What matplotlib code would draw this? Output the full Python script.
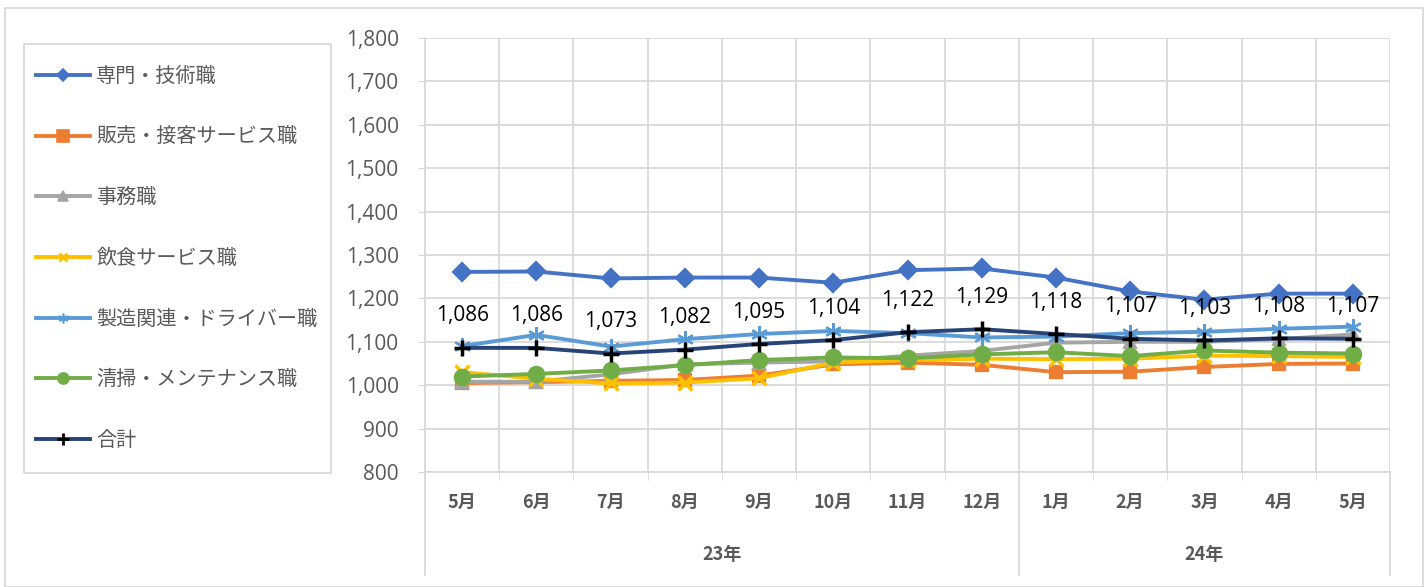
import numpy as np
import matplotlib.pyplot as plt
import matplotlib.transforms as mtransforms
from matplotlib.lines import Line2D

plt.rcParams['font.family'] = ['Noto Sans CJK JP', 'DejaVu Sans']

months = ['5月', '6月', '7月', '8月', '9月', '10月', '11月', '12月',
          '1月', '2月', '3月', '4月', '5月']
years = ['23年', '24年']
year_counts = [8, 5]

senmon = [1261, 1262, 1246, 1248, 1248, 1236, 1265, 1269, 1248, 1216, 1197, 1211, 1211]
hanbai = [1005, 1007, 1010, 1012, 1022, 1048, 1052, 1047, 1030, 1031, 1042, 1049, 1050]
jimu = [1008, 1008, 1025, 1048, 1052, 1055, 1068, 1079, 1098, 1100, 1100, 1106, 1117]
inshoku = [1030, 1015, 1004, 1006, 1016, 1052, 1058, 1061, 1060, 1061, 1068, 1067, 1065]
seizou = [1090, 1116, 1089, 1106, 1118, 1125, 1120, 1110, 1112, 1120, 1123, 1130, 1135]
seisou = [1020, 1026, 1034, 1046, 1058, 1064, 1062, 1071, 1076, 1067, 1080, 1075, 1073]
goukei = [1086, 1086, 1073, 1082, 1095, 1104, 1122, 1129, 1118, 1107, 1103, 1108, 1107]

# name, values, colour, marker, size in plot, size in legend
series = [
    ('専門・技術職', senmon, '#4472C4', 'D', 9, 6),
    ('販売・接客サービス職', hanbai, '#ED7D31', 's', 9, 8),
    ('事務職', jimu, '#A5A5A5', '^', 9, 7),
    ('飲食サービス職', inshoku, '#FFC000', 'x', 10, 6),
    ('製造関連・ドライバー職', seizou, '#5B9BD5', (6, 2, 0), 12, 7),
    ('清掃・メンテナンス職', seisou, '#70AD47', 'o', 11, 8),
    ('合計', goukei, '#264478', '+', 12, 8),
]

fig = plt.figure(figsize=(14.28, 5.87), dpi=100)
ax = fig.add_axes([425 / 1428, 1 - 472 / 587, 965 / 1428, 434 / 587])

x = np.arange(len(months))
handles = []
for name, vals, col, mk, ms, lms in series:
    mc = 'black' if name == '合計' else col
    mew = 2.5 if mk in ('x', '+') else 1.6
    ax.plot(x, vals, color=col, lw=2.8, marker=mk, ms=ms,
            mfc=mc, mec=mc, mew=mew)
    handles.append(Line2D([], [], color=col, lw=2.8, marker=mk, ms=lms,
                          mfc=mc, mec=mc, mew=2 if mk in ('x', '+') else 1.2))

num_font = ['Open Sans', 'DejaVu Sans']
for xi, v in zip(x, goukei):
    ax.annotate(f'{v:,}', (xi, v), xytext=(0, 23), textcoords='offset points',
                ha='center', va='center', fontsize=15, color='black', family=num_font)

ax.set_xlim(-0.5, len(months) - 0.5)
ax.set_ylim(800, 1800)
ax.set_yticks(np.arange(800, 1801, 100))
ax.set_yticklabels([f'{v:,}' for v in range(800, 1801, 100)],
                   fontsize=15, color='#595959', family=num_font)
ax.tick_params(axis='y', length=5, color='#D9D9D9', pad=14)

ax.set_xticks(x)
ax.set_xticklabels(months, fontsize=13, color='#595959', fontweight='bold')
ax.tick_params(axis='x', length=0, pad=15)
ax.set_xticks(np.arange(-0.5, len(months), 1), minor=True)
ax.tick_params(axis='x', which='minor', length=6, color='#D9D9D9')

ax.grid(axis='y', color='#D9D9D9', lw=1.3)
ax.grid(axis='x', which='minor', color='#D9D9D9', lw=1.3)
ax.set_axisbelow(True)
for s in ['top', 'right']:
    ax.spines[s].set_visible(False)
for s in ['left', 'bottom']:
    ax.spines[s].set_color('#D9D9D9')
    ax.spines[s].set_linewidth(1.3)

# year group labels and separators
trans = mtransforms.blended_transform_factory(ax.transData, ax.transAxes)
edges = np.concatenate([[0], np.cumsum(year_counts)]) - 0.5
for e in edges:
    ax.plot([e, e], [0, -0.237], transform=trans, color='#D9D9D9', lw=1.3, clip_on=False)
for i, yl in enumerate(years):
    ax.text((edges[i] + edges[i + 1]) / 2, -0.191, yl, transform=trans,
            ha='center', va='center', fontsize=13, color='#595959', fontweight='bold')

leg = fig.legend(handles, [s[0] for s in series], loc='upper left',
                 bbox_to_anchor=(36 / 1428, 1 - 66 / 587), frameon=False,
                 fontsize=14.5, labelspacing=1.97, handlelength=2.7,
                 handletextpad=0.3, borderpad=0, borderaxespad=0,
                 labelcolor='#595959')

fig.patches.append(plt.Rectangle((24 / 1428, 1 - 473 / 587), 307 / 1428, 429 / 587,
                                 transform=fig.transFigure, fill=False,
                                 edgecolor='#D9D9D9', lw=1.3))
fig.patches.append(plt.Rectangle((5 / 1428, 0), 1 - 10 / 1428, 1 - 8 / 587,
                                 transform=fig.transFigure, fill=False,
                                 edgecolor='#D9D9D9', lw=1.3))

fig.savefig('out.png', dpi=100)
